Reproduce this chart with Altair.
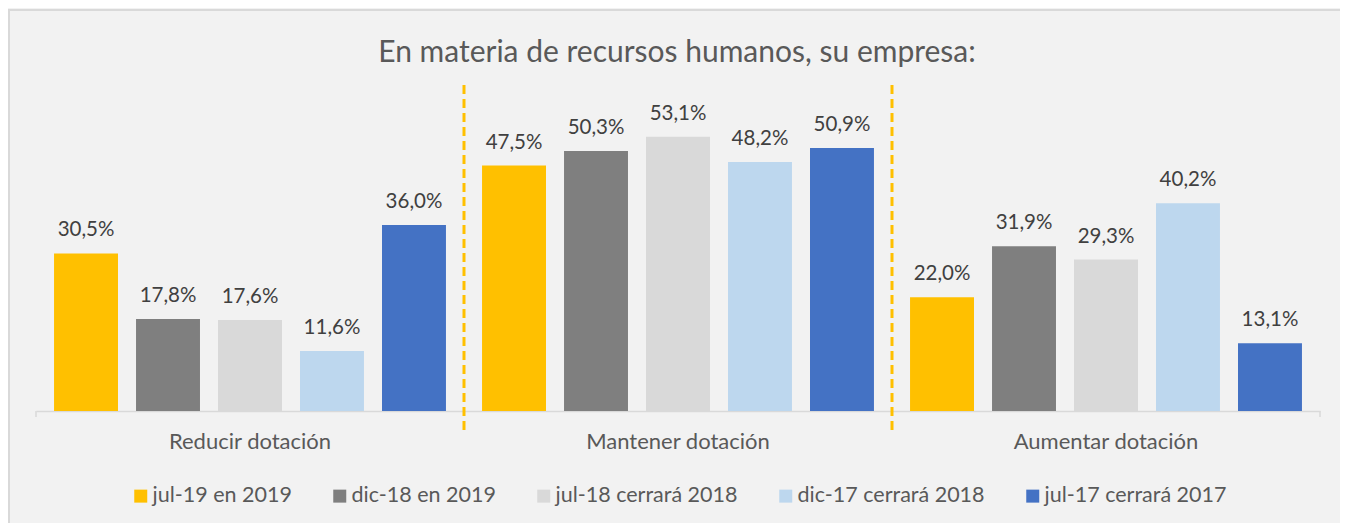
import altair as alt
import pandas as pd

title_text = ["En materia de recursos humanos, su empresa:"]
categories = ["Reducir dotación", "Mantener dotación", "Aumentar dotación"]
series = ["jul-19 en 2019", "dic-18 en 2019", "jul-18 cerrará 2018", "dic-17 cerrará 2018", "jul-17 cerrará 2017"]
colors = ["#FFC000", "#7F7F7F", "#D9D9D9", "#BDD7EE", "#4472C4"]
reducir = [0.305, 0.178, 0.176, 0.116, 0.360]
mantener = [0.475, 0.503, 0.531, 0.482, 0.509]
aumentar = [0.220, 0.319, 0.293, 0.402, 0.131]
separators = ["Mantener dotación", "Aumentar dotación"]

rows = []
for cat, vals in zip(categories, [reducir, mantener, aumentar]):
    for s, v in zip(series, vals):
        rows.append({"cat": cat, "serie": s, "v": v})
df = pd.DataFrame(rows)
sep_df = pd.DataFrame({"cat": separators})

W, H = 1284, 310
FONT = "Lato"
yscale = alt.Scale(domain=[0, 0.6])

base = alt.Chart(df).encode(
    x=alt.X("cat:N", sort=categories, scale=alt.Scale(paddingInner=0, paddingOuter=0),
            axis=alt.Axis(title=None, labelAngle=0, ticks=False, labelPadding=20,
                          labelFontSize=22, labelColor="#595959", labelFont=FONT,
                          labelLimit=600,
                          domainColor="#D9D9D9", domainWidth=1.5)),
    xOffset=alt.XOffset("serie:N", sort=series,
                        scale=alt.Scale(paddingInner=0.22, paddingOuter=0.22)),
)

bars = base.mark_bar().encode(
    y=alt.Y("v:Q", scale=yscale, axis=None),
    color=alt.Color("serie:N", sort=series,
                    scale=alt.Scale(domain=series, range=colors),
                    legend=alt.Legend(title=None, orient="none", direction="horizontal",
                                      legendX=94, legendY=384, columnPadding=37,
                                      symbolType="square", symbolSize=169,
                                      symbolStrokeWidth=0, labelFontSize=21.5,
                                      labelColor="#595959", labelFont=FONT,
                                      labelLimit=400,
                                      symbolOffset=0, labelOffset=1)),
)

labels = base.transform_calculate(
    lab="replace(format(datum.v, '.1%'), '.', ',')"
).mark_text(baseline="alphabetic", dy=-17, fontSize=20.5, color="#404040", font=FONT).encode(
    y=alt.Y("v:Q", scale=yscale),
    text="lab:N",
)

seps = alt.Chart(sep_df).mark_rule(color="#FFC000", strokeWidth=3, strokeDash=[9, 5]).encode(
    x=alt.X("cat:N", sort=categories, bandPosition=0),
    y=alt.value(-16),
    y2=alt.value(H + 22),
)

end_tick_l = alt.Chart(pd.DataFrame({"cat": [categories[0]]})).mark_rule(
    color="#D9D9D9", strokeWidth=1.5).encode(
    x=alt.X("cat:N", sort=categories, bandPosition=0), y=alt.value(H), y2=alt.value(H + 6))
end_tick_r = alt.Chart(pd.DataFrame({"cat": [categories[-1]]})).mark_rule(
    color="#D9D9D9", strokeWidth=1.5).encode(
    x=alt.X("cat:N", sort=categories, bandPosition=1), y=alt.value(H), y2=alt.value(H + 6))

border = alt.Chart(pd.DataFrame({"k": [0]})).mark_rect(
    fill=None, stroke="#D9D9D9", strokeWidth=2
).encode(
    x=alt.value(-27), x2=alt.value(W + 60),
    y=alt.value(-91), y2=alt.value(H + 150),
)

title = alt.Chart(pd.DataFrame({"t": title_text})).mark_text(
    fontSize=30, font=FONT, color="#595959", baseline="alphabetic", align="center"
).encode(
    x=alt.value(W / 2 - 1), y=alt.value(-39), text="t:N"
)

chart = alt.layer(border, bars, labels, seps, end_tick_l, end_tick_r, title).properties(
    width=W, height=H,
    padding={"left": 28, "top": 93, "right": 20, "bottom": 112},
    autosize=alt.AutoSizeParams(type="none"),
    background="#F2F2F2",
).configure_view(stroke=None)

chart.save("out.html", embed_options={"renderer": "svg", "actions": False})
